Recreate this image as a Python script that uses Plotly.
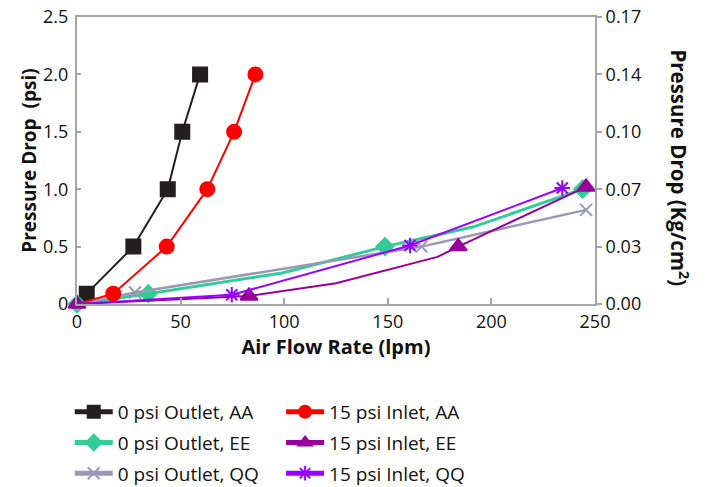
import plotly.graph_objects as go

# air flow (lpm) vs pressure drop (psi); unmarked points only bend the line
aa_out_x = [4.7, 27.2, 43.8, 50.8, 59.4]
aa_out_y = [0.09, 0.5, 1.0, 1.5, 2.0]
aa_out_mark = [True, True, True, True, True]

aa_in_x = [0, 17.5, 43.3, 62.9, 75.8, 86.1]
aa_in_y = [0, 0.09, 0.5, 1.0, 1.5, 2.0]
aa_in_mark = [False, True, True, True, True, True]

ee_out_x = [0, 34.4, 99, 148.6, 191, 244]
ee_out_y = [0, 0.09, 0.27, 0.5, 0.67, 1.0]
ee_out_mark = [True, True, False, True, False, True]

ee_in_x = [0, 83, 125, 174, 184, 245.7]
ee_in_y = [0, 0.07, 0.18, 0.41, 0.5, 1.02]
ee_in_mark = [True, True, False, False, True, True]

qq_out_x = [0, 28, 166.3, 245.7]
qq_out_y = [0, 0.1, 0.5, 0.82]
qq_out_mark = [False, True, True, True]

qq_in_x = [0, 74.7, 160.7, 234.2]
qq_in_y = [0, 0.08, 0.51, 1.01]
qq_in_mark = [False, True, True, True]

psi_ticks = [0, 0.5, 1.0, 1.5, 2.0, 2.5]
psi_labels = ["0", "0.5", "1.0", "1.5", "2.0", "2.5"]
kg_labels = ["0.00", "0.03", "0.07", "0.10", "0.14", "0.17"]

FONT = "Open Sans, sans-serif"
AXIS = "#a6a6a6"
TXT = "#111111"
TICKFONT = dict(family=FONT, size=18, color=TXT)

series = [
    ("0 psi Outlet, AA", aa_out_x, aa_out_y, aa_out_mark, "#231f20", "square", 14, 2, "legend"),
    ("0 psi Outlet, EE", ee_out_x, ee_out_y, ee_out_mark, "#33cc99", "diamond", 13, 3, "legend"),
    ("0 psi Outlet, QQ", qq_out_x, qq_out_y, qq_out_mark, "#9999b5", "x-thin-open", 12, 2.5, "legend"),
    ("15 psi Inlet, AA", aa_in_x, aa_in_y, aa_in_mark, "#ff0000", "circle", 14, 2, "legend2"),
    ("15 psi Inlet, EE", ee_in_x, ee_in_y, ee_in_mark, "#990099", "triangle-up", 15, 2, "legend2"),
    ("15 psi Inlet, QQ", qq_in_x, qq_in_y, qq_in_mark, "#9900ff", "asterisk-open", 13, 2, "legend2"),
]

fig = go.Figure()
for name, xs, ys, marks, color, symbol, size, lw, leg in series:
    fig.add_trace(go.Scatter(
        x=xs, y=ys, name=name, mode="lines+markers",
        legend=leg, legendgroup=name, cliponaxis=False,
        line=dict(color=color, width=lw),
        marker=dict(symbol=symbol, color=color, opacity=1,
                    size=[size if m else 0 for m in marks],
                    line=dict(color=color, width=2)),
    ))

# empty trace so the kg/cm2 axis gets drawn
fig.add_trace(go.Scatter(x=[None], y=[None], yaxis="y2", showlegend=False, hoverinfo="skip"))

legend_style = dict(
    font=dict(family=FONT, size=19, color=TXT),
    yanchor="top", y=-0.31, xanchor="left",
    traceorder="grouped", tracegroupgap=3,
    itemsizing="constant", itemwidth=38,
    bgcolor="rgba(0,0,0,0)",
)

# the html page body has an 8px margin, so the figure is 8px smaller on each side
fig.update_layout(
    width=710, height=479,
    margin=dict(l=69, r=123, t=9, b=183, autoexpand=False),
    plot_bgcolor="white", paper_bgcolor="white",
    font=dict(family=FONT, size=19, color=TXT),
    showlegend=True,
    legend=dict(x=-0.014, **legend_style),
    legend2=dict(x=0.394, **legend_style),
    xaxis=dict(
        range=[0, 250], dtick=50, showgrid=False, zeroline=False,
        showline=True, linecolor=AXIS, linewidth=2, mirror=True,
        ticks="inside", ticklen=6, tickwidth=2, tickcolor=AXIS,
        tickfont=TICKFONT, ticklabeloverflow="allow",
        title=dict(text="<b>Air Flow Rate (lpm)</b>", standoff=4,
                   font=dict(family=FONT, size=20)),
    ),
    yaxis=dict(
        range=[0, 2.5], tickvals=psi_ticks, ticktext=psi_labels,
        showgrid=False, zeroline=False,
        showline=True, linecolor=AXIS, linewidth=2,
        ticks="inside", ticklen=4, tickwidth=2, tickcolor=AXIS,
        tickfont=TICKFONT, ticklabelstandoff=3, ticklabeloverflow="allow",
    ),
    yaxis2=dict(
        overlaying="y", side="right", range=[0, 2.5],
        tickvals=psi_ticks, ticktext=kg_labels,
        showgrid=False, zeroline=False,
        showline=True, linecolor=AXIS, linewidth=2,
        ticks="outside", ticklen=5, tickwidth=2, tickcolor=AXIS,
        tickfont=TICKFONT, ticklabeloverflow="allow",
    ),
    annotations=[
        dict(text="<b>Pressure Drop&nbsp;&nbsp;(psi)</b>", xref="paper", yref="paper",
             x=-0.123, y=0.5, textangle=-90, showarrow=False,
             font=dict(family=FONT, size=19, color=TXT)),
        dict(text="<b>Pressure Drop (Kg/cm<sup>2</sup>)</b>", xref="paper", yref="paper",
             x=1.195, y=0.476, textangle=90, showarrow=False,
             font=dict(family=FONT, size=20.5, color=TXT)),
    ],
)

fig.write_html("out.html")
